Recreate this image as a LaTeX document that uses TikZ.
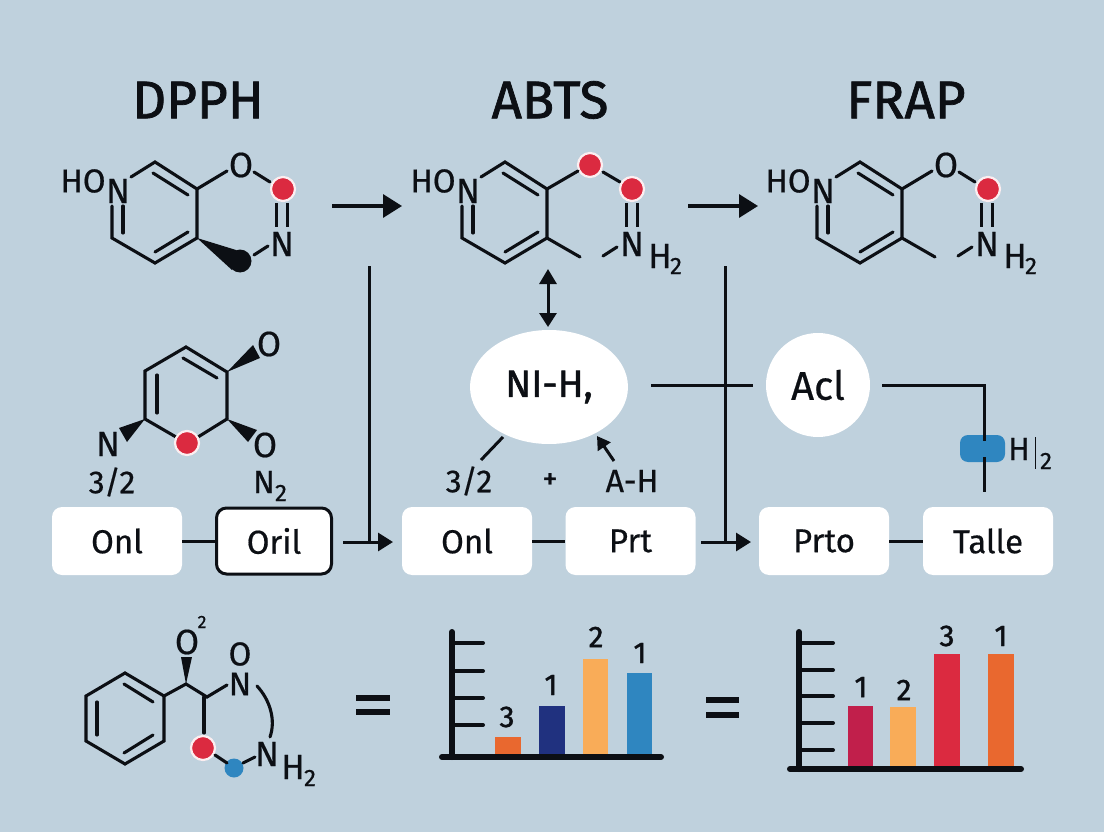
\documentclass[tikz,border=0pt]{standalone}
\usepackage{fontspec}
\setmainfont[FakeBold=0.5]{Fira Sans}
\newfontfamily\heavy[FakeBold=1.4]{Fira Sans}
\usetikzlibrary{arrows.meta,shapes.geometric}
\definecolor{bgc}{HTML}{BFD1DD}
\definecolor{ink}{HTML}{0C0F14}
\definecolor{redd}{HTML}{DB2A40}
\definecolor{bluee}{HTML}{2F86C0}
\definecolor{orng}{HTML}{E9682F}
\definecolor{navy}{HTML}{20317F}
\definecolor{lorng}{HTML}{F9AC58}
\definecolor{crim}{HTML}{C11F4B}
\tikzset{
  bond/.style={draw=ink,line width=3.1pt,line cap=round,line join=miter},
  thin bond/.style={draw=ink,line width=3.1pt,line cap=butt},
  wire/.style={draw=ink,line width=3pt},
  arr/.style={-{Triangle[length=19pt,width=23pt]},draw=ink,line width=3.4pt},
  arrsmall/.style={-{Triangle[length=15pt,width=18pt]},draw=ink,line width=3pt},
  t/.style={inner sep=0pt,outer sep=0pt,text=ink},
  title/.style={t,font=\heavy\fontsize{53}{53}\selectfont},
  atom/.style={t,font=\fontsize{35}{35}\selectfont},
  atomhn/.style={t,font=\fontsize{33}{33}\selectfont},
  sub/.style={t,font=\fontsize{24}{24}\selectfont},
  boxlab/.style={t,font=\fontsize{32}{32}\selectfont},
  boxw/.style={fill=white,rounded corners=10pt,minimum width=130pt,minimum height=68pt,inner sep=0pt,text=ink,font=\fontsize{33}{33}\selectfont},
  redball/.style={circle,fill=redd,draw=white!92!redd,line width=2.2pt,minimum size=24pt,inner sep=0pt},
  axis/.style={draw=ink,line width=6pt,line cap=round},
  tick/.style={draw=ink,line width=4pt,line cap=round},
  barlab/.style={t,font=\heavy\fontsize{30}{30}\selectfont},
}
\newcommand{\ringbonds}{%
  \draw[bond] (131,177) -- (155,162) -- (197,189) -- (197,238) -- (155,263) -- (112,238) -- (112,206);
  \draw[bond] (153,173) -- (188,195);
  \draw[bond] (155,252) -- (188,232);
  \draw[bond] (123,206) -- (123,233);
}
\newcommand{\dbl}[1]{%
  \draw[thin bond] (#1-5.5,203) -- (#1-5.5,227);
  \draw[thin bond] (#1+5.5,203) -- (#1+5.5,227);
}
\begin{document}
\begin{tikzpicture}[x=1pt,y=-1pt]
\useasboundingbox (0,0) rectangle (1104,832);
\fill[bgc] (0,0) rectangle (1104,832);
% titles
\node[title] (tDPPH) at (198,100) {DPPH};
\node[title] (tABTS) at (550,100) {ABTS};
\node[title] (tFRAP) at (906,100) {FRAP};
% molecule 1
\ringbonds
\node[atomhn] (m1HO) at (83,181) {HO};
\node[atom] (m1N) at (118,191) {N};
\node[atom] (m1O) at (241,165) {O};
\draw[bond] (197,189) -- (227,171);
\draw[bond] (254,172) -- (270,182);
\dbl{282}
\node[redball] (m1R) at (283,189) {};
\node[atom] (m1N2) at (282,244) {N};
\draw[bond] (254,255) -- (268,246);
\fill[ink] (197,238) -- (236,250) -- (232,270) -- cycle;
\node[circle,fill=ink,minimum size=23pt,inner sep=0pt] (m1B) at (240,261) {};
% molecule 2
\begin{scope}[shift={(350,0)}]
\ringbonds
\node[atomhn] (m2HO) at (83,181) {HO};
\node[atom] (m2N) at (118,191) {N};
\node[redball] (m2Ra) at (240,165) {};
\draw[bond] (197,189) -- (228,171);
\draw[bond] (253,172) -- (270,182);
\dbl{282}
\node[redball] (m2Rb) at (282,189) {};
\node[atom] (m2N2) at (282,244) {N};
\node[atom] (m2H) at (310,256) {H};
\node[sub] (m2s) at (326,266) {2};
\draw[bond] (197,238) -- (230,257);
\draw[bond] (253,256) -- (267,247);
\end{scope}
% molecule 3
\begin{scope}[shift={(705,0)}]
\ringbonds
\node[atomhn] (m3HO) at (83,181) {HO};
\node[atom] (m3N) at (118,191) {N};
\node[atom] (m3O) at (241,165) {O};
\draw[bond] (197,189) -- (227,171);
\draw[bond] (254,172) -- (270,182);
\dbl{282}
\node[redball] (m3R) at (283,189) {};
\node[atom] (m3N2) at (282,244) {N};
\node[atom] (m3H) at (310,256) {H};
\node[sub] (m3s) at (326,266) {2};
\draw[bond] (197,238) -- (230,257);
\draw[bond] (253,256) -- (267,247);
\end{scope}
% top arrows
\coordinate (a1s) at (332,206); \coordinate (a1e) at (402,206);
\coordinate (a2s) at (688,206); \coordinate (a2e) at (758,206);
\draw[arr] (a1s) -- (a1e);
\draw[arr] (a2s) -- (a2e);
% middle-left molecule
\draw[bond] (227,419) -- (227,372) -- (186,347) -- (145,371) -- (145,419) -- (176,437);
\draw[bond] (198,437) -- (227,419);
\draw[bond] (157,375) -- (157,413);
\draw[bond] (183,358) -- (217,378);
\fill[ink] (227,372) -- (253,345) -- (260,358) -- cycle;
\fill[ink] (227,419) -- (257,430) -- (248,442) -- cycle;
\fill[ink] (145,419) -- (119,428) -- (127,442) -- cycle;
\node[redball] (m4R) at (187,443) {};
\node[atom] (m4O1) at (269,344) {O};
\node[atom] (m4O2) at (265,445) {O};
\node[atom] (m4N) at (108,444) {N};
\node[boxlab] (m4a) at (112,482) {3/2};
\node[boxlab] (m4b) at (264,482) {N};
\node[sub] (m4c) at (281,493) {2};
% boxes
\node[boxw] (b1) at (117,541) {Onl};
\node[boxw,draw=ink,line width=3pt,minimum width=115pt,minimum height=66pt] (b2) at (274,541) {Oril};
\node[boxw] (b3) at (467,541) {Onl};
\node[boxw] (b4) at (630.5,541) {Prt};
\node[boxw] (b5) at (824,541) {Prto};
\node[boxw] (b6) at (988,541) {Talle};
\draw[wire] (b1) -- (b2);
\draw[wire] (b3) -- (b4);
\draw[wire] (b5) -- (b6);
% long verticals and arrows into boxes
\coordinate (v1t) at (369,266); \coordinate (v1b) at (369,542);
\coordinate (v2t) at (725,266); \coordinate (v2b) at (725,542);
\coordinate (c1s) at (343,542); \coordinate (c1e) at (393,542);
\coordinate (c2s) at (701,542); \coordinate (c2e) at (751,542);
\draw[wire] (v1t) -- (v1b);
\draw[wire] (v2t) -- (v2b);
\draw[arrsmall] (c1s) -- (c1e);
\draw[arrsmall] (c2s) -- (c2e);
% ellipse and circle
\node[ellipse,fill=white,minimum width=158pt,minimum height=114pt,inner sep=0pt,text=ink,font=\heavy\fontsize{38}{38}\selectfont] (nih) at (549,387) {NI-H,};
\node[circle,fill=white,minimum size=104pt,inner sep=0pt,text=ink,font=\fontsize{40}{40}\selectfont] (acl) at (818,385) {Acl};
% double arrow
\coordinate (d1) at (548,269); \coordinate (d2) at (548,327);
\draw[{Triangle[length=15pt,width=17pt]}-{Triangle[length=14pt,width=17pt]},draw=ink,line width=3pt] (d1) -- (d2);
% labels below ellipse
\node[boxlab] (l32) at (469,481) {3/2};
\node[boxlab,font=\heavy\fontsize{30}{30}\selectfont] (lplus) at (550,481) {+};
\node[boxlab] (lah) at (632,481) {A-H};
\coordinate (e1) at (503,437); \coordinate (e2) at (481,460);
\draw[wire] (e1) -- (e2);
\coordinate (e3) at (614,461); \coordinate (e4) at (597,436);
\draw[-{Triangle[length=13pt,width=15pt]},draw=ink,line width=3pt] (e3) -- (e4);
% right wires
\coordinate (h1) at (651,385); \coordinate (h2) at (753,385);
\draw[wire] (h1) -- (h2);
\coordinate (h3) at (882,385); \coordinate (h4) at (984,385); \coordinate (h5) at (984,492);
\draw[wire] (h3) -- (h4) -- (h5);
\node[fill=bluee,rounded corners=8pt,minimum width=45pt,minimum height=27pt,inner sep=0pt] (pill) at (982.5,448.5) {};
\coordinate (p1) at (984,435); \coordinate (p2) at (984,441); \coordinate (p3) at (984,457); \coordinate (p4) at (984,463);
\draw[wire] (p1) -- (p2);
\draw[wire] (p3) -- (p4);
\node[boxlab] (ph) at (1019,449) {H};
\draw[draw=ink,line width=0.8pt] (1035,437) -- (1035,469);
\node[sub] (p2l) at (1046,461) {2};
% bottom molecule
\draw[bond] (125,673) -- (164,696) -- (164,741) -- (125,764) -- (86,741) -- (86,696) -- cycle;
\draw[bond] (97,702) -- (97,735);
\draw[bond] (124,684) -- (153,702);
\draw[bond] (124,753) -- (153,735);
\draw[bond] (164,696) -- (186,684) -- (207,697) -- (227,685);
\draw[bond] (204,697) -- (204,733);
\fill[ink] (186,684) -- (181,657) -- (192,657) -- cycle;
\node[atom] (m5O) at (187,642) {O};
\node[sub,font=\fontsize{18}{18}\selectfont] (m5s) at (202,622) {2};
\node[atomhn] (m5O2) at (240,654) {O};
\node[atomhn] (m5N) at (240,684) {N};
\node[redball] (m5R) at (203,748) {};
\node[circle,fill=bluee,minimum size=19pt,inner sep=0pt] (m5B) at (234,768) {};
\draw[bond] (215,755) -- (227,763);
\draw[bond] (243,763) -- (255,757);
\node[atom] (m5N2) at (267,754) {N};
\node[atom] (m5H) at (293,767) {H};
\node[sub] (m5s2) at (310,778) {2};
\draw[bond] (257,686) .. controls (270,700) and (276,720) .. (270,737);
% equals
\fill[ink] (356,695) rectangle (390,701);
\fill[ink] (356,709) rectangle (390,715);
\fill[ink] (706,697) rectangle (739,703);
\fill[ink] (706,712) rectangle (739,718);
% chart 1
\fill[orng] (495,737) rectangle (521,757);
\fill[navy] (539,706) rectangle (565,757);
\fill[lorng] (583,659) rectangle (608,757);
\fill[bluee] (627,673) rectangle (652,757);
\draw[axis] (452,632) -- (452,757);
\draw[axis] (442,757) -- (661,757);
\foreach \yy in {643,671,698,725} \draw[tick] (452,\yy) -- (483,\yy);
\node[barlab] (c1a) at (507,717) {3};
\node[barlab] (c1b) at (551,685) {1};
\node[barlab] (c1c) at (596,637) {2};
\node[barlab] (c1d) at (640,653) {1};
% chart 2
\fill[crim] (848,706) rectangle (873,769);
\fill[lorng] (890,707) rectangle (916,769);
\fill[redd] (934,654) rectangle (960,769);
\fill[orng] (988,654) rectangle (1014,769);
\draw[axis] (799,632) -- (799,769);
\draw[axis] (790,769) -- (1021,769);
\foreach \yy in {643,670,696,723,750} \draw[tick] (799,\yy) -- (833,\yy);
\node[barlab] (c2a) at (861,687) {1};
\node[barlab] (c2b) at (904,690) {2};
\node[barlab] (c2c) at (947,636) {3};
\node[barlab] (c2d) at (1001,636) {1};
\end{tikzpicture}
\end{document}
